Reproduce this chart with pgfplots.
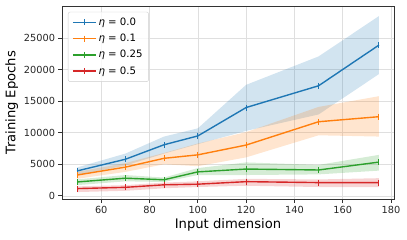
\documentclass[border=0pt]{standalone}
\usepackage{fontspec}
\setmainfont{DejaVu Sans}
\usepackage{pgfplots}
\pgfplotsset{compat=1.18}
\definecolor{tabblue}{HTML}{1F77B4}
\definecolor{taborange}{HTML}{FF7F0E}
\definecolor{tabgreen}{HTML}{2CA02C}
\definecolor{tabred}{HTML}{D62728}
\begin{document}
\begin{tikzpicture}
\begin{axis}[
  scale only axis, width=332bp, height=193bp,
  xmin=43.75, xmax=181.25, ymin=-500, ymax=30100,
  xtick={60,80,100,120,140,160,180},
  ytick={0,5000,10000,15000,20000,25000},
  scaled y ticks=false,
  /pgf/number format/1000 sep={},
  /pgf/number format/assume math mode=true,
  tick label style={font=\fontsize{9.8}{11}\selectfont, color=black!85},
  label style={font=\fontsize{13.2}{15}\selectfont},
  xlabel={Input dimension}, ylabel={Training Epochs},
  xlabel style={yshift=2pt},
  ylabel style={yshift=-1pt},
  grid=major, major grid style={gray!25, line width=0.6pt},
  axis line style={black!80, line width=0.7pt},
  tick style={black!80, line width=0.7pt},
  tick align=outside, major tick length=3.5bp,
  xtick pos=bottom, ytick pos=left,
  legend style={at={(0.018,0.97)}, anchor=north west, draw=black!20, rounded corners=2pt,
    font=\fontsize{10.2}{12}\selectfont, fill=white, fill opacity=0.8, text opacity=1,
    row sep=3.2pt, inner xsep=4pt, inner ysep=4pt},
  legend cell align=left,
  legend image code/.code={
    \draw[#1, mark repeat=2, mark phase=2] plot coordinates {(0bp,0bp) (11.5bp,0bp) (23bp,0bp)};},
  every axis plot/.append style={line width=1.4pt, mark=|, mark size=3pt, mark options={line width=0.9pt}},
]
% bands
\addplot[forget plot, draw=none, mark=none, fill=tabblue, fill opacity=0.2] coordinates {
 (50,4500) (70,6700) (86,9400) (100,10700) (120,17600) (150,22100) (175,28500)
 (175,19300) (150,12900) (120,10300) (100,8200) (86,6700) (70,4800) (50,3300)} -- cycle;
\addplot[forget plot, draw=none, mark=none, fill=taborange, fill opacity=0.2] coordinates {
 (50,3800) (70,5200) (86,6800) (100,8300) (120,10100) (150,14100) (175,15800)
 (175,9400) (150,9600) (120,6100) (100,4700) (86,5000) (70,3800) (50,2700)} -- cycle;
\addplot[forget plot, draw=none, mark=none, fill=tabgreen, fill opacity=0.2] coordinates {
 (50,2600) (70,3300) (86,2900) (100,4400) (120,5300) (150,4900) (175,6500)
 (175,4000) (150,3400) (120,3300) (100,3300) (86,2200) (70,2300) (50,1700)} -- cycle;
\addplot[forget plot, draw=none, mark=none, fill=tabred, fill opacity=0.2] coordinates {
 (50,1500) (70,1700) (86,2100) (100,2300) (120,2700) (150,2600) (175,2800)
 (175,1400) (150,1400) (120,1600) (100,1400) (86,1200) (70,800) (50,600)} -- cycle;
% lines
\addplot[tabblue] coordinates {
 (50,3950) (70,5800) (86,8100) (100,9500) (120,14000) (150,17450) (175,23900)};
\addlegendentry{\textit{η} = 0.0}
\addplot[taborange] coordinates {
 (50,3300) (70,4550) (86,5950) (100,6500) (120,8050) (150,11750) (175,12550)};
\addlegendentry{\textit{η} = 0.1}
\addplot[tabgreen] coordinates {
 (50,2200) (70,2800) (86,2550) (100,3800) (120,4250) (150,4100) (175,5350)};
\addlegendentry{\textit{η} = 0.25}
\addplot[tabred] coordinates {
 (50,1150) (70,1350) (86,1750) (100,1850) (120,2250) (150,2100) (175,2100)};
\addlegendentry{\textit{η} = 0.5}
\end{axis}
\path (current axis.south west) ++(-62bp,-41bp) rectangle ++(407bp,240bp);
\end{tikzpicture}
\end{document}
